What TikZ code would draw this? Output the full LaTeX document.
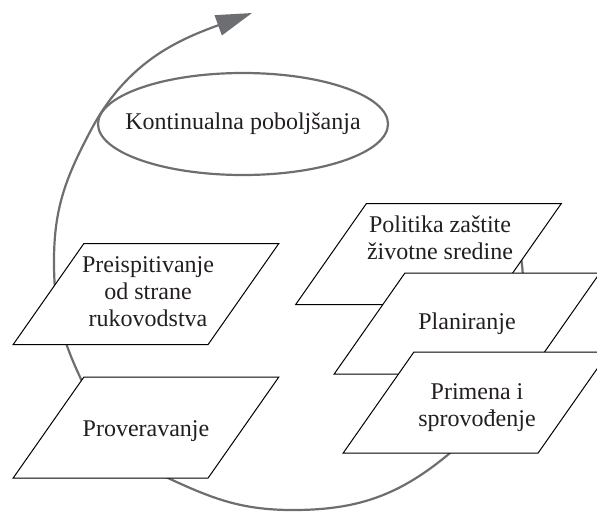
\documentclass[tikz,border=0pt]{standalone}
\usepackage{fontspec}
\setmainfont{Liberation Serif}
\usetikzlibrary{shapes.geometric,arrows.meta}
\definecolor{sivo}{HTML}{6D6E71}
\definecolor{crno}{HTML}{231F20}
\tikzset{
  korak/.style={draw, fill=white, line width=0.5pt, trapezium,
    trapezium left angle=55, trapezium right angle=125, inner sep=2pt,
    text width=58.1pt, text height=23.25pt, text depth=23.25pt},
  tekst/.style={align=center, text=crno, font=\fontsize{12}{13.5}\selectfont},
  krug/.style={draw=sivo, line width=1.1pt, ellipse, minimum width=145pt, minimum height=51pt}
}
\begin{document}
\begin{tikzpicture}[x=0.5pt, y=0.5pt]
            \useasboundingbox (0,0) rectangle (597,511);
            % Spirala
            \draw [sivo, line width=1.1pt, -{Triangle[length=18pt, width=10.5pt]}]
              (517,271) to[out=-75, in=90] (523,225) to[out=-90, in=50] (450,58)
              to[out=-140, in=0] (293,1) to[out=180, in=-25] (168,33)
              to[out=155, in=-65] (80,134) to[out=115, in=-90] (54,250)
              to[out=90, in=-118] (91,381) to[out=62, in=-160] (252,498);
            % Elipsa
            \node [krug] (kontinualna) at (243,387) {};
            \node [tekst] at (kontinualna) {Kontinualna poboljšanja};
            % Levo
            \node [korak] (preispitivanje) at (146,217) {};
            \node [tekst] at (148,219) {Preispitivanje\\od strane\\rukovodstva};
            \node [korak] (proveravanje) at (146,83.5) {};
            \node [tekst] at (146,80) {Proveravanje};
            % Desno
            \node [korak] (politika) at (428.5,257) {};
            \node [tekst] at (440,273) {Politika zaštite\\životne sredine};
            \node [korak] (planiranje) at (467,187.5) {};
            \node [tekst] at (planiranje) {Planiranje};
            \node [korak] (primena) at (476,108.5) {};
            \node [tekst] at (477,103) {Primena i\\sprovođenje};
        \end{tikzpicture}
\end{document}
